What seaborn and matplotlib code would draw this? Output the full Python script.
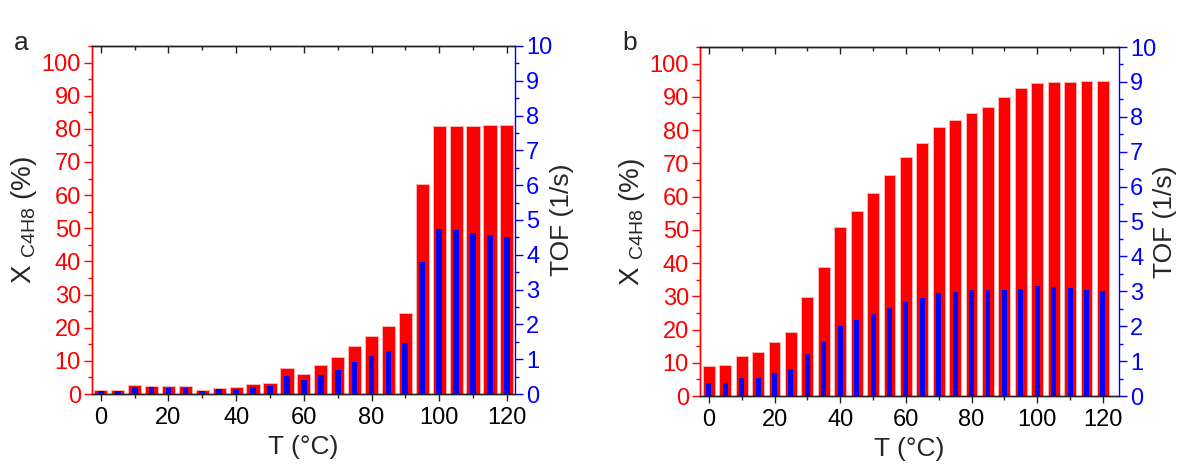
import numpy as np
import pandas as pd
import matplotlib
matplotlib.use("Agg")
import matplotlib.pyplot as plt
import seaborn as sns
from matplotlib.ticker import MultipleLocator

sns.set_style("ticks")
plt.rcParams['font.family'] = ['Liberation Sans', 'DejaVu Sans']
plt.rcParams['mathtext.fontset'] = 'custom'
plt.rcParams['mathtext.rm'] = 'Liberation Sans'
plt.rcParams['mathtext.it'] = 'Liberation Sans'

temperature = [0, 5, 10, 15, 20, 25, 30, 35, 40, 45, 50, 55, 60,
               65, 70, 75, 80, 85, 90, 95, 100, 105, 110, 115, 120]

conv_a = [1.2, 1.2, 2.6, 2.4, 2.3, 2.4, 1.2, 1.7, 2.0, 3.1, 3.3, 7.7, 6.1,
          8.6, 11.1, 14.6, 17.4, 20.4, 24.4, 63.4, 81.0, 81.0, 81.0, 81.1, 81.1]
tof_a = [0.09, 0.09, 0.20, 0.19, 0.18, 0.18, 0.09, 0.13, 0.14, 0.21, 0.23, 0.52, 0.40,
         0.55, 0.70, 0.91, 1.09, 1.25, 1.47, 3.78, 4.75, 4.70, 4.64, 4.58, 4.52]

conv_b = [8.9, 9.2, 12.1, 13.2, 16.2, 19.3, 29.7, 38.8, 50.9, 55.7, 61.1, 66.4, 71.8,
          76.1, 80.8, 83.1, 85.1, 86.9, 89.9, 92.8, 94.1, 94.4, 94.5, 94.7, 94.7]
tof_b = [0.37, 0.38, 0.51, 0.53, 0.67, 0.78, 1.19, 1.56, 2.02, 2.18, 2.36, 2.53, 2.69,
         2.82, 2.94, 2.99, 3.03, 3.03, 3.04, 3.07, 3.15, 3.12, 3.10, 3.05, 3.01]

panel_letters = ['a', 'b']
xlabel = 'T (°C)'
ylabel_left = r'X $_{\mathregular{C4H8}}$ (%)'
ylabel_right = 'TOF (1/s)'

RED = '#ff0000'
BLUE = '#0000ff'

fig = plt.figure(figsize=(11.92, 4.73), dpi=100)
positions = [[92/1192, 79/473, 423/1192, 348/473],
             [700/1192, 77/473, 419/1192, 349/473]]
xlims = [(-2.6, 122.4), (-2.7, 124.9)]
red_w = [0.78, 0.72]
blue_w = [0.34, 0.30]
right_pad = [-2, -2.5]

for i, (conv, tof) in enumerate([(conv_a, tof_a), (conv_b, tof_b)]):
    ax = fig.add_axes(positions[i])
    df = pd.DataFrame({'T': temperature, 'X': conv, 'TOF': tof})
    sns.barplot(data=df, x='T', y='X', native_scale=True, color=RED,
                saturation=1, width=red_w[i], edgecolor='#ffb3b3',
                linewidth=0.7, ax=ax)
    ax2 = ax.twinx()
    sns.barplot(data=df, x='T', y='TOF', native_scale=True, color=BLUE,
                saturation=1, width=blue_w[i], linewidth=0, ax=ax2)

    ax.set_xlim(*xlims[i])
    ax.set_ylim(0, 105)
    ax2.set_ylim(0, 10.0)

    ax.xaxis.set_major_locator(MultipleLocator(20))
    ax.xaxis.set_minor_locator(MultipleLocator(10))
    ax.yaxis.set_major_locator(MultipleLocator(10))
    ax.yaxis.set_minor_locator(MultipleLocator(5))
    ax2.yaxis.set_major_locator(MultipleLocator(1))
    ax2.yaxis.set_minor_locator(MultipleLocator(0.5))

    ax.tick_params(axis='x', which='major', direction='out', length=5,
                   width=1, labelsize=17, colors='#222222', labelcolor='black',
                   pad=4)
    ax.tick_params(axis='x', which='minor', direction='out', length=3,
                   width=1, colors='#222222')
    ax.tick_params(axis='y', which='major', direction='out', length=6,
                   width=1, labelsize=17, colors=RED, pad=2)
    ax.tick_params(axis='y', which='minor', direction='out', length=3,
                   width=1, colors=RED)
    ax2.tick_params(axis='y', which='major', direction='out', length=6,
                    width=1, labelsize=17, colors=BLUE, pad=2)
    ax2.tick_params(axis='y', which='minor', direction='out', length=3,
                    width=1, colors=BLUE)

    top = ax.secondary_xaxis('top')
    top.xaxis.set_major_locator(MultipleLocator(20))
    top.xaxis.set_minor_locator(MultipleLocator(10))
    top.tick_params(axis='x', which='major', direction='in', length=5,
                    width=1, colors='#222222', labeltop=False)
    top.tick_params(axis='x', which='minor', direction='in', length=3,
                    width=1, colors='#222222')
    top.spines['top'].set_color('#222222')

    for a in (ax, ax2):
        for s in a.spines.values():
            s.set_linewidth(1)
    ax.spines['left'].set_color(RED)
    ax.spines['bottom'].set_color('#222222')
    ax.spines['top'].set_color('#222222')
    ax2.spines['left'].set_color(RED)
    ax2.spines['right'].set_color(BLUE)
    ax2.spines['top'].set_color('#222222')
    ax2.spines['bottom'].set_color('#222222')
    ax.spines['right'].set_visible(False)

    ax.set_xlabel(xlabel, fontsize=19, labelpad=5)
    ax.set_ylabel(ylabel_left, fontsize=20, labelpad=2)
    ax2.set_ylabel(ylabel_right, fontsize=19, labelpad=right_pad[i])
    ax2.set_xlabel('')

    fig.text(positions[i][0] - 78/1192, 0.91, panel_letters[i], fontsize=19,
             ha='left', va='center')

fig.savefig('out.png', dpi=100)
